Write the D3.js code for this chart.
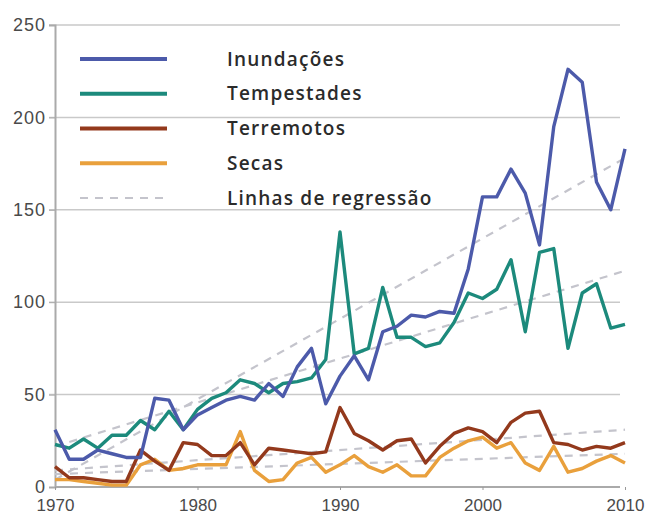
<!DOCTYPE html>
<html>
<head>
<meta charset="utf-8">
<script src="https://cdn.jsdelivr.net/npm/d3@7"></script>
<style>
  body { margin: 0; background: #fff; }
  svg { display: block; }
</style>
</head>
<body>
<div id="chart"></div>
<script>
// data, one value per year 1970..2010
var years = d3.range(1970, 2011)
var inundacoes = [31, 15, 15, 20, 18, 16, 16, 48, 47, 31, 39, 43, 47, 49, 47,
  56, 49, 65, 75, 45, 60, 71, 58, 84, 87, 93, 92, 95, 94, 118,
  157, 157, 172, 159, 131, 195, 226, 219, 165, 150, 183]
var tempestades = [23, 21, 26, 21, 28, 28, 36, 31, 41, 31, 42, 48, 51, 58, 56,
  51, 56, 57, 59, 69, 138, 72, 75, 108, 81, 81, 76, 78, 89, 105,
  102, 107, 123, 84, 127, 129, 75, 105, 110, 86, 88]
var terremotos = [11, 5, 5, 4, 3, 3, 20, 14, 9, 24, 23, 17, 17, 24, 12,
  21, 20, 19, 18, 19, 43, 29, 25, 20, 25, 26, 13, 22, 29, 32,
  30, 24, 35, 40, 41, 24, 23, 20, 22, 21, 24]
var secas = [4, 4, 3, 2, 1, 1, 12, 15, 9, 10, 12, 12, 12, 30, 9,
  3, 4, 13, 16, 8, 12, 17, 11, 8, 12, 6, 6, 16, 21, 25,
  27, 21, 24, 13, 9, 22, 8, 10, 14, 17, 13]
// regression lines: [value in 1970, value in 2010]
var regressao = {
  inundacoes: [4, 178],
  tempestades: [22, 117],
  terremotos: [9, 31],
  secas: [7, 18]
}
var yTicks = [0, 50, 100, 150, 200, 250]
var xTicks = [1970, 1980, 1990, 2000, 2010]
var legendLabels = ['Inundações', 'Tempestades', 'Terremotos', 'Secas', 'Linhas de regressão']

var colors = {
  inundacoes: '#4c5aaa',
  tempestades: '#1c8a7c',
  terremotos: '#93391c',
  secas: '#e9a03c'
}

var width = 649, height = 517

var svg = d3.select('#chart').append('svg')
  .attr('width', width)
  .attr('height', height)

var x = d3.scaleLinear().domain([1970, 2010]).range([55, 625])
var y = d3.scaleLinear().domain([0, 250]).range([487, 25])

// horizontal grid
svg.append('g')
  .selectAll('line')
  .data(yTicks.filter(d => d > 0))
  .enter().append('line')
  .attr('x1', x(1970) - 6)
  .attr('x2', 620)
  .attr('y1', d => y(d))
  .attr('y2', d => y(d))
  .attr('stroke', '#c9c9c9')
  .attr('stroke-width', 1.5)

// y axis
var yAxis = d3.axisLeft(y).tickValues(yTicks).tickSize(6).tickPadding(3)
var gy = svg.append('g')
  .attr('transform', 'translate(' + x(1970) + ',0)')
  .call(yAxis)
gy.select('.domain').attr('stroke', '#aaa').attr('stroke-width', 2)
gy.selectAll('.tick line').attr('stroke', '#aaa')
gy.selectAll('text')
  .attr('font-family', 'Liberation Sans, Arial, sans-serif')
  .attr('font-size', 18)
  .attr('letter-spacing', 1)
  .attr('fill', '#4a4a4a')

// x axis
var xAxis = d3.axisBottom(x).tickValues(xTicks).tickFormat(d3.format('d')).tickSize(3).tickPadding(9)
var gx = svg.append('g')
  .attr('transform', 'translate(0,' + y(0) + ')')
  .call(xAxis)
gx.select('.domain').attr('stroke', '#aaa').attr('stroke-width', 2).attr('d', 'M' + x(1970) + ',0H' + 620)
gx.selectAll('.tick line').attr('stroke', '#999')
gx.selectAll('text')
  .attr('font-family', 'Liberation Sans, Arial, sans-serif')
  .attr('font-size', 17)
  .attr('fill', '#4a4a4a')

// regression lines
var regKeys = ['inundacoes', 'tempestades', 'terremotos', 'secas']
svg.append('g')
  .selectAll('line')
  .data(regKeys)
  .enter().append('line')
  .attr('x1', x(1970))
  .attr('x2', x(2010))
  .attr('y1', k => y(regressao[k][0]))
  .attr('y2', k => y(regressao[k][1]))
  .attr('stroke', '#c4c4cc')
  .attr('stroke-width', 2.2)
  .attr('stroke-dasharray', '8,7')

// series
var series = [
  { key: 'secas', values: secas },
  { key: 'terremotos', values: terremotos },
  { key: 'tempestades', values: tempestades },
  { key: 'inundacoes', values: inundacoes }
]
var line = d3.line()
  .x((d, i) => x(years[i]))
  .y(d => y(d))

svg.append('g')
  .selectAll('path')
  .data(series)
  .enter().append('path')
  .attr('d', d => line(d.values))
  .attr('fill', 'none')
  .attr('stroke', d => colors[d.key])
  .attr('stroke-width', 3.4)
  .attr('stroke-linejoin', 'round')

// legend
var legendKeys = ['inundacoes', 'tempestades', 'terremotos', 'secas', 'regressao']
var legendY = d3.scalePoint().domain(legendKeys).range([59, 198])
var legend = svg.append('g')
  .selectAll('g')
  .data(legendKeys)
  .enter().append('g')
  .attr('transform', k => 'translate(0,' + legendY(k) + ')')

legend.append('line')
  .attr('x1', 80)
  .attr('x2', 167)
  .attr('stroke', k => k === 'regressao' ? '#c4c4cc' : colors[k])
  .attr('stroke-width', k => k === 'regressao' ? 2.2 : 4)
  .attr('stroke-dasharray', k => k === 'regressao' ? '8,7' : null)

legend.append('text')
  .attr('x', 227)
  .attr('dy', '0.35em')
  .attr('font-family', 'Open Sans, sans-serif')
  .attr('font-weight', 600)
  .attr('font-size', 19)
  .attr('letter-spacing', 1.2)
  .attr('fill', '#2b2b2b')
  .text((k, i) => legendLabels[i])
</script>
</body>
</html>
